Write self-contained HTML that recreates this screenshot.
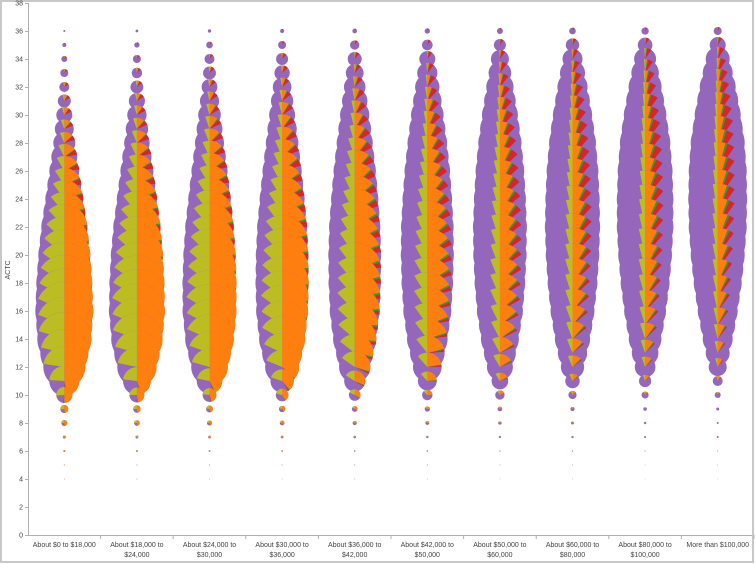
<!DOCTYPE html>
<html><head><meta charset="utf-8"><style>
html,body{margin:0;padding:0;background:#fff}
svg{display:block;font-family:"Liberation Sans",sans-serif}
</style></head><body>
<svg id="s" width="756" height="564" viewBox="0 0 756 564" xmlns="http://www.w3.org/2000/svg">
<rect x="0" y="0" width="756" height="564" fill="#fff"/>
<rect x="1" y="1" width="752" height="561" fill="none" stroke="#c8c8c8" stroke-width="2"/>
<g id="pies"></g>
<g id="axes" stroke="#b0b0b0" stroke-width="1" fill="none">
<line x1="28.5" y1="3" x2="28.5" y2="535.5"/>
<line x1="28" y1="535.5" x2="752" y2="535.5"/>
</g>
<g id="lab" font-size="7" fill="#444"></g>
<text transform="translate(10,270) rotate(-90)" font-size="7" fill="#444" text-anchor="middle">ACTC</text>
</svg>
<script>
var Y=function(v){return 535-14*v;};
var lab=document.getElementById('lab'),ax=document.getElementById('axes'),ns="http://www.w3.org/2000/svg";
function el(p,t,a,txt){var e=document.createElementNS(ns,t);for(var k in a)e.setAttribute(k,a[k]);if(txt!=null)e.textContent=txt;p.appendChild(e);return e;}
for(var v=0;v<=38;v+=2){var y=Y(v);el(ax,'line',{x1:25,y1:y+.5,x2:28,y2:y+.5});el(lab,'text',{x:23,y:y+2.5,'text-anchor':'end'},v);}
var names=[["About $0 to $18,000"],["About $18,000 to","$24,000"],["About $24,000 to","$30,000"],["About $30,000 to","$36,000"],["About $36,000 to","$42,000"],["About $42,000 to","$50,000"],["About $50,000 to","$60,000"],["About $60,000 to","$80,000"],["About $80,000 to","$100,000"],["More than $100,000"]];
var W=72.6,X0=28;
for(var c=0;c<10;c++){var cx=X0+W*(c+.5);el(ax,'line',{x1:X0+W*(c+1),y1:535,x2:X0+W*(c+1),y2:539});
 names[c].forEach(function(t,i){el(lab,'text',{x:cx,y:547+i*10,'text-anchor':'middle'},t);});}
var k0={4:0.4,5:0.5,6:1,7:1.5,8:3,9:4,10:8,11:15,12:21,14:27,16:29,18:28,20:26,22:23,24:19,26:15,28:11,30:8,32:5,34:3,35:2,36:1};
var k9={4:0.3,5:0.4,6:0.5,7:1,8:1,9:1.5,10:3,11:5,12:9,13:12,14:15,16:20,18:24,20:27,22:29,24:29.5,26:29,28:27,30:23,32:18,34:12,35:8,36:4};
function interp(k,y){var ks=Object.keys(k).map(Number).sort(function(a,b){return a-b});
 if(y<=ks[0])return k[ks[0]];if(y>=ks[ks.length-1])return k[ks[ks.length-1]];
 for(var i=0;i<ks.length-1;i++){if(y>=ks[i]&&y<=ks[i+1]){var t=(y-ks[i])/(ks[i+1]-ks[i]);return k[ks[i]]*(1-t)+k[ks[i+1]]*t;}}}
var col=["#ff7f0e","#2ca02c","#d62728","#9467bd","#bcbd22"];
var P0=[0.22,0.25,0.29,0.35,0.47,0.6,0.7,0.77,0.8,0.84];
var g=document.getElementById('pies');
function arc(cx,cy,r,a0,a1){
 var s=2*Math.PI;var x0=cx+r*Math.sin(a0*s),y0=cy-r*Math.cos(a0*s),x1=cx+r*Math.sin(a1*s),y1=cy-r*Math.cos(a1*s);
 return "M"+cx+","+cy+"L"+x0.toFixed(2)+","+y0.toFixed(2)+"A"+r+","+r+" 0 "+((a1-a0)>0.5?1:0)+" 1 "+x1.toFixed(2)+","+y1.toFixed(2)+"Z";}
for(var c=0;c<10;c++){var tc=c/9,cx=X0+W*(c+.5);
 for(var v=36;v>=4;v--){
  var r=interp(k0,v)*(1-tc)+interp(k9,v)*tc; if(r<0.3)continue;
  var t=Math.max(0,Math.min(1,(v-10)/26));
  var p0=P0[c]; var p=p0+(0.9-p0)*Math.pow(t,0.8);
  var red=(0.08*t+0.01)*(1-0.3*tc); var gr=0.012;
  var rest=Math.max(0,1-p-red-gr); var fo=rest*0.66, fl=rest*0.34;
  var fr=[fo,gr,red,p,fl];var a=0,cy=Y(v);
  el(g,'circle',{cx:cx,cy:cy,r:r,fill:col[3]});
  for(var i=0;i<5;i++){var b=a+fr[i];
   if(i!=3&&fr[i]>0.001){el(g,'path',{d:arc(cx,cy,r,a,b),fill:col[i]});}
   a=b;}
 }}
</script>
</body></html>
